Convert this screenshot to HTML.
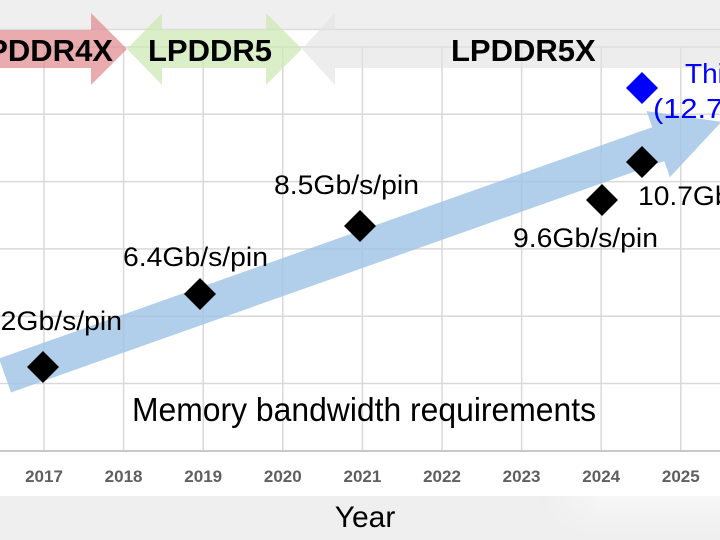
<!DOCTYPE html>
<html>
<head>
<meta charset="utf-8">
<style>
  html,body{margin:0;padding:0;background:#fff;}
  body{width:720px;height:540px;overflow:hidden;}
  svg{display:block;}
  text{font-family:"Liberation Sans",Arial,sans-serif;}
</style>
</head>
<body>
<svg width="720" height="540" viewBox="0 0 720 540" xmlns="http://www.w3.org/2000/svg">
  <defs>
    <linearGradient id="wph" x1="0" y1="0" x2="1" y2="0">
      <stop offset="0" stop-color="#ffffff" stop-opacity="0"/>
      <stop offset="0.35" stop-color="#ffffff" stop-opacity="0.5"/>
      <stop offset="1" stop-color="#ffffff" stop-opacity="0.5"/>
    </linearGradient>
    <linearGradient id="wpv" x1="0" y1="0" x2="0" y2="1">
      <stop offset="0" stop-color="#ffffff" stop-opacity="1"/>
      <stop offset="1" stop-color="#ffffff" stop-opacity="0"/>
    </linearGradient>
    <mask id="mk">
      <rect x="540" y="496" width="180" height="44" fill="url(#wpv)"/>
    </mask>
  </defs>
  <!-- backgrounds -->
  <rect x="0" y="0" width="720" height="540" fill="#ffffff"/>
  <rect x="0" y="0" width="720" height="29" fill="#efefef"/>
  <line x1="0" y1="29.5" x2="720" y2="29.5" stroke="#dcdcdc" stroke-width="1.5"/>
  <rect x="0" y="496" width="720" height="44" fill="#efefef"/>
  <rect x="540" y="496" width="180" height="44" fill="url(#wph)" mask="url(#mk)"/>

  <!-- grid -->
  <g stroke="#d9d9d9" stroke-width="1.5">
    <line x1="0" y1="47" x2="720" y2="47"/>
    <line x1="0" y1="114.3" x2="720" y2="114.3"/>
    <line x1="0" y1="181.6" x2="720" y2="181.6"/>
    <line x1="0" y1="248.9" x2="720" y2="248.9"/>
    <line x1="0" y1="316.2" x2="720" y2="316.2"/>
    <line x1="0" y1="383.5" x2="720" y2="383.5"/>
    <line x1="44" y1="47" x2="44" y2="451"/>
    <line x1="123.6" y1="47" x2="123.6" y2="451"/>
    <line x1="203.2" y1="47" x2="203.2" y2="451"/>
    <line x1="282.8" y1="47" x2="282.8" y2="451"/>
    <line x1="362.4" y1="47" x2="362.4" y2="451"/>
    <line x1="442" y1="47" x2="442" y2="451"/>
    <line x1="521.6" y1="47" x2="521.6" y2="451"/>
    <line x1="601.2" y1="47" x2="601.2" y2="451"/>
    <line x1="680.8" y1="47" x2="680.8" y2="451"/>
  </g>
  <line x1="0" y1="451" x2="720" y2="451" stroke="#c8c8c8" stroke-width="2"/>

  <!-- generation arrows -->
  <polygon points="-10,30 91,30 91,13 127,49 91,85 91,68 -10,68" fill="#e38f93" fill-opacity="0.75"/>
  <polygon points="127,49 162,13 162,30 266,30 266,13 302,49 266,85 266,68 162,68 162,85" fill="#cdeab5" fill-opacity="0.75"/>
  <polygon points="302,49 335,13 335,30 730,30 730,68 335,68 335,85" fill="#e4e4e4" fill-opacity="0.65"/>

  <text x="113" y="61" font-size="31" font-weight="bold" text-anchor="end" fill="#000">LPDDR4X</text>
  <text x="148" y="61" font-size="31" font-weight="bold" fill="#000">LPDDR5</text>
  <text x="451" y="61" font-size="31" font-weight="bold" fill="#000">LPDDR5X</text>

  <!-- big trend arrow -->
  <g transform="translate(5,375.5) rotate(-19.5)">
    <polygon points="0,-18 693,-18 693,-35 760,0 693,35 693,18 0,18" fill="#9dc3e6" fill-opacity="0.8"/>
  </g>

  <!-- data points -->
  <g fill="#000">
    <polygon points="43,351 59,367 43,383 27,367"/>
    <polygon points="200,278 216,294 200,310 184,294"/>
    <polygon points="360,210 376,226 360,242 344,226"/>
    <polygon points="602,184 618,200 602,216 586,200"/>
    <polygon points="642,146 658,162 642,178 626,162"/>
  </g>
  <polygon points="642,72 658,88 642,104 626,88" fill="#0000ff"/>

  <!-- data labels -->
  <g font-size="27" fill="#000">
    <text x="-23" y="330" textLength="145" lengthAdjust="spacingAndGlyphs">4.2Gb/s/pin</text>
    <text x="123" y="266" textLength="145" lengthAdjust="spacingAndGlyphs">6.4Gb/s/pin</text>
    <text x="274" y="194" textLength="145" lengthAdjust="spacingAndGlyphs">8.5Gb/s/pin</text>
    <text x="513" y="247" textLength="145" lengthAdjust="spacingAndGlyphs">9.6Gb/s/pin</text>
    <text x="638" y="205" textLength="160" lengthAdjust="spacingAndGlyphs">10.7Gb/s/pin</text>
  </g>
  <g font-size="28" fill="#0000ff">
    <text x="685" y="83">This work</text>
    <text x="653" y="118" textLength="195" lengthAdjust="spacingAndGlyphs">(12.7Gb/s/pin)</text>
  </g>

  <text x="132" y="421" font-size="33" fill="#000" textLength="464" lengthAdjust="spacingAndGlyphs">Memory bandwidth requirements</text>

  <!-- x tick labels -->
  <g font-size="17" font-weight="bold" fill="#5f5f5f" text-anchor="middle">
    <text x="44" y="482">2017</text>
    <text x="123.6" y="482">2018</text>
    <text x="203.2" y="482">2019</text>
    <text x="282.8" y="482">2020</text>
    <text x="362.4" y="482">2021</text>
    <text x="442" y="482">2022</text>
    <text x="521.6" y="482">2023</text>
    <text x="601.2" y="482">2024</text>
    <text x="680.8" y="482">2025</text>
  </g>

  <text x="365" y="527" font-size="30" fill="#000" text-anchor="middle">Year</text>
</svg>
</body>
</html>
